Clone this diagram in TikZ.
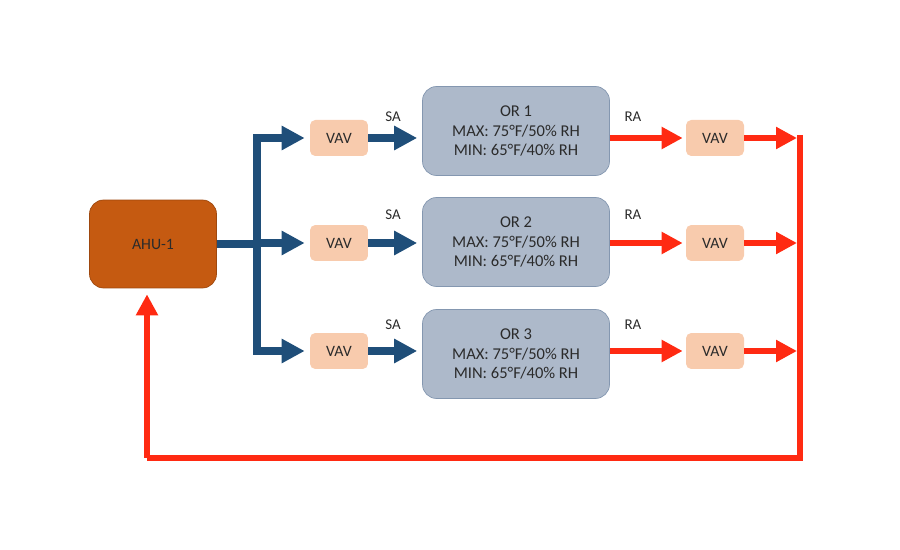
\documentclass[tikz,border=0pt]{standalone}
\usepackage{fontspec}
\setmainfont{Carlito}
\usepackage{xcolor}
\usetikzlibrary{arrows.meta, positioning}

\definecolor{ahufill}{HTML}{C55A11}
\definecolor{vavfill}{HTML}{F8CBAD}
\definecolor{roomfill}{HTML}{ADB9CA}
\definecolor{roomline}{HTML}{8497B0}
\definecolor{supplyblue}{HTML}{1F4E79}
\definecolor{returnred}{HTML}{FF2A12}
\definecolor{textgray}{HTML}{2B2B2B}

\begin{document}
\begin{tikzpicture}[
  x=0.02cm, y=-0.02cm,
  ahu/.style={rectangle, fill=ahufill, draw=ahufill!80!black, rounded corners=8pt, minimum width=2.54cm, minimum height=1.76cm, font=\fontsize{9}{11}\selectfont, text=textgray},
  vav/.style={rectangle, fill=vavfill, rounded corners=3pt, minimum width=1.16cm, minimum height=0.72cm, font=\fontsize{9}{11}\selectfont, text=textgray},
  room/.style={rectangle, fill=roomfill, draw=roomline, rounded corners=8pt, minimum width=3.74cm, minimum height=1.78cm, align=center, font=\fontsize{9.4}{11.3}\selectfont, text=textgray},
  tag/.style={font=\fontsize{8.5}{10}\selectfont, text=textgray},
  supply/.style={draw=supplyblue, line width=4pt, -{Triangle[length=0.46cm, width=0.46cm]}, shorten >=0.1cm},
  supplyline/.style={draw=supplyblue, line width=4pt},
  return/.style={draw=returnred, line width=3.6pt, -{Triangle[length=0.42cm, width=0.42cm]}, shorten >=0.06cm},
  returnline/.style={draw=returnred, line width=3.6pt, line join=miter},
  >=Stealth
]
\useasboundingbox (0,0) rectangle (900,550);

% air handler
\node[ahu] (ahu) at (153,244) {AHU-1};

% operating rooms
\node[room] (or1) at (516,131) {OR 1\\MAX: 75°F/50\% RH\\MIN: 65°F/40\% RH};
\node[room] (or2) at (516,242) {OR 2\\MAX: 75°F/50\% RH\\MIN: 65°F/40\% RH};
\node[room] (or3) at (516,354) {OR 3\\MAX: 75°F/50\% RH\\MIN: 65°F/40\% RH};

% supply boxes
\node[vav] (vav1) at (339,138) {VAV};
\node[vav] (vav2) at (339,243) {VAV};
\node[vav] (vav3) at (339,351) {VAV};

% return boxes
\node[vav] (vav4) at (715,138) {VAV};
\node[vav] (vav5) at (715,243) {VAV};
\node[vav] (vav6) at (715,351) {VAV};

% labels
\node[tag] (sa1) at (393,117) {SA};
\node[tag] (sa2) at (393,215) {SA};
\node[tag] (sa3) at (393,325) {SA};
\node[tag] (ra1) at (633,117) {RA};
\node[tag] (ra2) at (633,215) {RA};
\node[tag] (ra3) at (633,325) {RA};

% duct points
\coordinate (split) at (257,244);
\coordinate (sup1) at (257,138);
\coordinate (sup2) at (257,243);
\coordinate (sup3) at (257,351);
\coordinate (ret1) at (800,138);
\coordinate (ret2) at (800,243);
\coordinate (ret3) at (800,351);
\coordinate (retb) at (800,458);
\coordinate (reta) at (147,458);

% supply side
\draw[supplyline] (ahu.east) -- (split);
\draw[supplyline] ([yshift=2pt]sup1) -- ([yshift=-2pt]sup3);
\draw[supply] ([xshift=-2pt]sup1) -- (vav1.west);
\draw[supply] (sup2) -- (vav2.west);
\draw[supply] ([xshift=-2pt]sup3) -- (vav3.west);
\draw[supply] (vav1.east) -- (vav1 -| or1.west);
\draw[supply] (vav2.east) -- (vav2 -| or2.west);
\draw[supply] (vav3.east) -- (vav3 -| or3.west);

% return side
\draw[return] (vav1 -| or1.east) -- (vav4.west);
\draw[return] (vav2 -| or2.east) -- (vav5.west);
\draw[return] (vav3 -| or3.east) -- (vav6.west);
\draw[return] (vav4.east) -- (ret1);
\draw[return] (vav5.east) -- (ret2);
\draw[return] (vav6.east) -- (ret3);
\draw[returnline] ([yshift=1.8pt]ret1) -- (retb) -- (reta);
\draw[return, shorten >=0.12cm] (reta) -- (reta |- ahu.south);
\end{tikzpicture}
\end{document}
